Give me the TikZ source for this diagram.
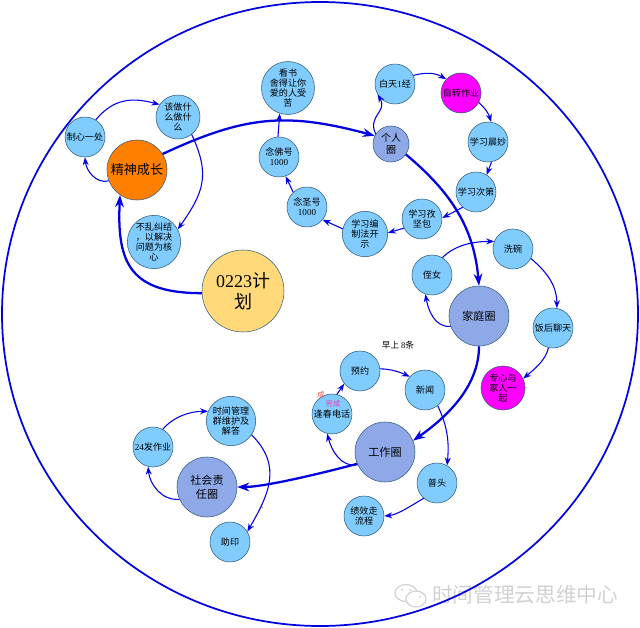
\documentclass[tikz,border=0pt]{standalone}
\usepackage{fontspec}
\usepackage{xcolor}
\setmainfont{Noto Sans CJK SC}
\newfontfamily\digitfont{Liberation Serif}
\usetikzlibrary{arrows.meta}
\definecolor{leafblue}{HTML}{80CCFF}
\definecolor{ringblue}{HTML}{8FA9E8}
\definecolor{planyellow}{HTML}{FFD97A}
\definecolor{growthorange}{HTML}{FF8000}
\definecolor{linkblue}{HTML}{0000E0}
\definecolor{rimgrey}{HTML}{30587A}
\definecolor{purepink}{HTML}{FF00FF}
\tikzset{
    bubble/.style={circle, draw=rimgrey, inner sep=0pt, align=center},
    leaf/.style={bubble, fill=leafblue, minimum size=30pt, font=\fontsize{6.8}{7.6}\selectfont},
    wideleaf/.style={leaf, minimum size=34pt},
    homework/.style={leaf, fill=purepink},
    ring/.style={bubble, fill=ringblue, minimum size=45pt, font=\fontsize{8.3}{10.5}\selectfont},
    thinlink/.style={->, draw=linkblue, line width=0.8pt},
    mainlink/.style={-{Stealth[length=9pt,width=6.5pt]}, draw=linkblue, line width=1.7pt}
}
\begin{document}
\begin{tikzpicture}[x=0.75pt, y=-0.75pt, >={Stealth[length=6pt,width=4.5pt]}]
    \useasboundingbox (0,0) rectangle (640,628);

    % Watermark in the lower right corner
    \node[text=black!18, font=\fontsize{15.5}{17}\selectfont] (mark) at (525,595) {时间管理云思维中心};
    \draw[black!18, line width=0.9pt] (406,593) ellipse (11 and 8.5);
    \draw[black!18, line width=0.9pt, fill=white] (416,599) ellipse (10 and 8);
    \fill[black!18] (402,590) circle (1.2) (410,590) circle (1.2) (420,597) circle (1);

    % Outer ring
    \draw[linkblue, line width=1.3pt] (320,314) ellipse (318 and 312);

    % Centre of the plan and the four circles
    \node[bubble, fill=planyellow, minimum size=61.5pt, font=\fontsize{13.5}{16}\selectfont] (plan) at (243,291) {{\digitfont 0223}计\\划};
    \node[bubble, fill=growthorange, minimum size=45pt, font=\fontsize{9.8}{11}\selectfont] (growth) at (137,170) {精神成长};
    \node[ring, minimum size=27pt, font=\fontsize{7.5}{9}\selectfont] (self) at (391,144) {个人\\圈};
    \node[ring] (family) at (479,316) {家庭圈};
    \node[ring] (work) at (385,452) {工作圈};
    \node[ring] (society) at (207,487) {社会责\\任圈};

    % Spiritual growth
    \node[leaf] (focus) at (85,137) {制心一处};
    \node[wideleaf, minimum size=33pt] (duty) at (178,117) {该做什\\么做什\\么};
    \node[wideleaf, minimum size=40pt] (solve) at (154,242) {不乱纠结\\，以解决\\问题为核\\心};

    % Personal circle
    \node[wideleaf, minimum size=37pt] (book) at (288,88) {看书\\舍得让你\\爱的人受\\苦};
    \node[leaf] (buddha) at (279,157) {念佛号\\{\digitfont 1000}};
    \node[leaf] (sage) at (307,207) {念圣号\\{\digitfont 1000}};
    \node[wideleaf] (compile) at (365,234) {学习编\\制法开\\示};
    \node[leaf] (scripture) at (422,219) {学习孜\\坚包};
    \node[leaf] (second) at (476,192) {学习次第};
    \node[leaf] (morning) at (488,142) {学习晨妙};
    \node[homework] (turn) at (461,93) {自转作业};
    \node[leaf] (daily) at (395,84) {白天{\digitfont 1}经};

    % Family circle
    \node[leaf] (niece) at (432,275) {侄女};
    \node[leaf] (dishes) at (513,249) {洗碗};
    \node[leaf] (chat) at (553,328) {饭后聊天};
    \node[homework, minimum size=33pt] (together) at (503,388) {专心与\\家人一\\起};
    \node[font=\fontsize{6.5}{8}\selectfont] (early) at (398,345) {早上 {\digitfont 8}条};

    % Work circle
    \node[leaf] (booking) at (360,371) {预约};
    \node[leaf] (news) at (425,390) {新闻};
    \node[leaf] (phone) at (332,414) {逢春电话};
    \node[leaf] (head) at (437,483) {普头};
    \node[leaf] (review) at (364,516) {绩效走\\流程};
    \node[text=red!70, font=\fontsize{5.5}{6}\selectfont] (donea) at (321,394.5) {成};
    \node[text=purepink!60!red!80, font=\fontsize{5.5}{6}\selectfont] (doneb) at (333,403.5) {完成};

    % Social responsibility circle
    \node[leaf] (homeworks) at (153,447) {{\digitfont 24}发作业};
    \node[wideleaf, minimum size=37pt] (group) at (231,421) {时间管理\\群维护及\\解答};
    \node[leaf] (print) at (230,542) {助印};
    \fill[black!60] (262,507) circle (0.8);

    % Thick links between the circles
    \draw[mainlink] (plan.183) to[out=180, in=-93, looseness=1.4] (growth.236);
    \draw[mainlink] (growth.32) to[out=25, in=165, looseness=1.1] (self.153);
    \draw[mainlink] (self.-35) to[out=-40, in=95] (family.90);
    \draw[mainlink] (family.-90) to[out=-90, in=35, looseness=0.9] (work.22);
    \draw[mainlink] (work.203) to[out=195, in=0, looseness=0.6] (society.0);

    % Thin links
    \draw[thinlink] (growth.201) to[out=195, in=-85] (focus.-90);
    \draw[thinlink] (focus.58) to[out=50, in=165, looseness=1.1] (duty.146);
    \draw[thinlink] (duty.-52) to[out=-65, in=55, looseness=1.2] (solve.28);

    \draw[thinlink] (self.147) to[out=115, in=-60, looseness=1.3] (daily.211);
    \draw[thinlink] (daily.25) to[out=15, in=150] (turn.137);
    \draw[thinlink] (turn.-28) to[bend left=15] (morning.81);
    \draw[thinlink] (morning.-80) -- (second.58);
    \draw[thinlink] (second.229) -- (scripture.3);
    \draw[thinlink] (scripture.207) -- (compile.3);
    \draw[thinlink] (compile.167) -- (sage.-39);
    \draw[thinlink] (sage.133) -- (buddha.-71);
    \draw[thinlink] (buddha.93) -- (book.-108);

    \draw[thinlink] (family.200) to[out=185, in=-80] (niece.-109);
    \draw[thinlink] (niece.59) to[out=45, in=180, looseness=0.9] (dishes.158);
    \draw[thinlink] (dishes.-28) to[out=-40, in=90] (chat.79);
    \draw[thinlink] (chat.-103) to[out=-100, in=40, looseness=0.8] (together.25);

    \draw[thinlink] (work.205) to[out=190, in=-75] (phone.-104);
    \draw[thinlink] (phone.76) -- (booking.219);
    \draw[thinlink] (booking.6) to[out=0, in=155, looseness=0.9] (news.139);
    \draw[thinlink] (news.-51) to[out=-65, in=85] (head.60);
    \draw[thinlink] (head.229) to[out=210, in=5, looseness=0.8] (review.0);

    \draw[thinlink] (society.204) to[out=185, in=-85] (homeworks.-104);
    \draw[thinlink] (homeworks.61) to[out=50, in=180, looseness=0.9] (group.157);
    \draw[thinlink] (group.-34) to[out=-45, in=60, looseness=1.15] (print.31);
\end{tikzpicture}
\end{document}
